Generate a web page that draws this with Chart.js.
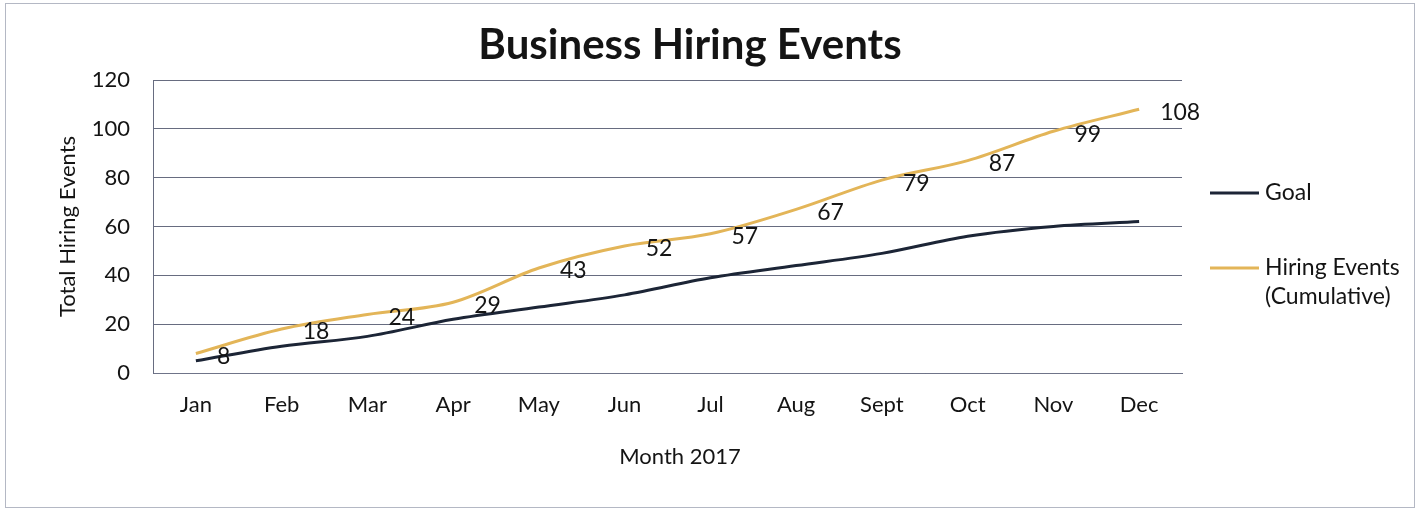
<!DOCTYPE html>
<html lang="en">
<head>
    <meta charset="UTF-8">
    <title>Business Hiring Events</title>
    <script src="https://cdn.jsdelivr.net/npm/chart.js@4/dist/chart.umd.min.js"></script>
    <style>
        body { margin: 0; background: #fff; }
    </style>
</head>
<body>
    <canvas id="hiringChart" width="1420" height="511"></canvas>

    <script>
        // data
        const months = ['Jan', 'Feb', 'Mar', 'Apr', 'May', 'Jun', 'Jul', 'Aug', 'Sept', 'Oct', 'Nov', 'Dec'];
        const goal = [5, 11, 15, 22, 27, 32, 39, 44, 49, 56, 60, 62];
        const hiringEvents = [8, 18, 24, 29, 43, 52, 57, 67, 79, 87, 99, 108];
        const yTicks = [0, 20, 40, 60, 80, 100, 120];

        const FONT = 'Lato, "Open Sans", sans-serif';
        const TEXT = '#141414';

        // title, x title, legend on the right, value labels, frame
        const extras = {
            id: 'extras',
            afterDatasetsDraw(chart) {
                const ctx = chart.ctx;
                ctx.save();

                // frame round the chart
                ctx.strokeStyle = '#b4b8c4';
                ctx.lineWidth = 1;
                ctx.strokeRect(5.5, 3.5, 1409, 504);

                // title
                ctx.fillStyle = TEXT;
                ctx.font = 'bold 42px ' + FONT;
                ctx.textAlign = 'center';
                ctx.textBaseline = 'middle';
                ctx.fillText('Business Hiring Events', 690, 45);

                // x axis title
                ctx.font = '22px ' + FONT;
                ctx.fillText('Month 2017', 680, 457);

                // value labels for the cumulative series
                const meta = chart.getDatasetMeta(1);
                ctx.font = '23px ' + FONT;
                ctx.textAlign = 'left';
                meta.data.forEach((pt, i) => {
                    ctx.fillText(String(hiringEvents[i]), pt.x + 21, pt.y + 3);
                });

                // legend
                const items = [
                    { ds: chart.data.datasets[0], y: 193, lines: ['Goal'] },
                    { ds: chart.data.datasets[1], y: 268, lines: ['Hiring Events', '(Cumulative)'] }
                ];
                ctx.font = '23px ' + FONT;
                items.forEach(it => {
                    ctx.strokeStyle = it.ds.borderColor;
                    ctx.lineWidth = 3;
                    ctx.beginPath();
                    ctx.moveTo(1210, it.y);
                    ctx.lineTo(1259, it.y);
                    ctx.stroke();
                    it.lines.forEach((t, k) => ctx.fillText(t, 1265, it.y + k * 29));
                });

                ctx.restore();
            }
        };

        const ctx = document.getElementById('hiringChart').getContext('2d');
        new Chart(ctx, {
            type: 'line',
            data: {
                labels: months,
                datasets: [
                    {
                        label: 'Goal',
                        data: goal,
                        borderColor: '#1c2536',
                        borderWidth: 3,
                        pointRadius: 0,
                        cubicInterpolationMode: 'monotone'
                    },
                    {
                        label: 'Hiring Events (Cumulative)',
                        data: hiringEvents,
                        borderColor: '#e3b558',
                        borderWidth: 3,
                        pointRadius: 0,
                        cubicInterpolationMode: 'monotone'
                    }
                ]
            },
            options: {
                responsive: false,
                animation: false,
                layout: { padding: { top: 80, right: 238, left: 0, bottom: 0 } },
                plugins: {
                    legend: { display: false },
                    tooltip: { enabled: false },
                    title: { display: false }
                },
                scales: {
                    x: {
                        offset: true,
                        grid: { display: false, drawTicks: false },
                        border: { display: true, color: '#6f7489', width: 1 },
                        ticks: { color: TEXT, font: { family: FONT, size: 22 }, padding: 19 },
                        afterFit(scale) { scale.height = 138; }
                    },
                    y: {
                        min: 0,
                        max: 120,
                        afterBuildTicks(scale) { scale.ticks = yTicks.map(v => ({ value: v })); },
                        grid: { color: '#676c80', lineWidth: 1, drawTicks: false },
                        border: { display: true, color: '#676c80', width: 1 },
                        ticks: { color: TEXT, font: { family: FONT, size: 22 }, padding: 23 },
                        title: {
                            display: true,
                            text: 'Total Hiring Events',
                            color: TEXT,
                            font: { family: FONT, size: 22 },
                            padding: { top: 55, bottom: 0 }
                        },
                        afterFit(scale) { scale.width = 153; }
                    }
                }
            },
            plugins: [extras]
        });
    </script>
</body>
</html>
